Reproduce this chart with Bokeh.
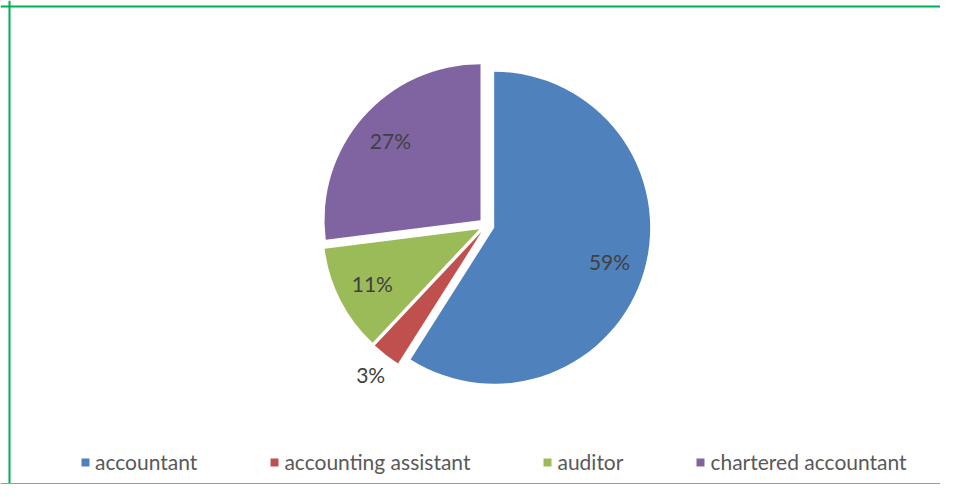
import math
from bokeh.plotting import figure
from bokeh.models import ColumnDataSource, Range1d, Span
from bokeh.core.properties import value
from bokeh.embed import file_html
from bokeh.resources import INLINE

categories = ["accountant", "accounting assistant", "auditor", "chartered accountant"]
shares = [59, 3, 11, 27]
label_texts = ["59%", "3%", "11%", "27%"]
colors = ["#4F81BD", "#C0504D", "#9BBB59", "#8064A2"]

W, H = 940, 484
CX, CY = 486, 259      # pie centre in pixel-like data units
R = 156
EXPLODE = 8

total = float(sum(shares))
xs, ys, starts, ends, lx, ly = [], [], [], [], [], []
cum = 0.0
for s in shares:
    f0 = cum / total
    f1 = (cum + s) / total
    cum += s
    a0 = math.pi / 2 - f0 * 2 * math.pi
    a1 = math.pi / 2 - f1 * 2 * math.pi
    mid = (a0 + a1) / 2
    ox = CX + EXPLODE * math.cos(mid)
    oy = CY + EXPLODE * math.sin(mid)
    xs.append(ox)
    ys.append(oy)
    starts.append(a0)
    ends.append(a1)
    d = R * 0.77 if s / total >= 0.05 else R + 25
    lx.append(ox + d * math.cos(mid))
    ly.append(oy + d * math.sin(mid))

src = ColumnDataSource(dict(category=categories, x=xs, y=ys, start=starts, end=ends,
                            color=colors, label=label_texts, lx=lx, ly=ly))

p = figure(width=W, height=H, output_backend="svg", toolbar_location=None,
           x_range=Range1d(0, W), y_range=Range1d(0, H), min_border=0,
           background_fill_color="white", border_fill_color="white")
p.axis.visible = False
p.grid.visible = False
p.outline_line_color = None

p.wedge(x="x", y="y", radius=R, start_angle="start", end_angle="end", direction="clock",
        fill_color="color", line_color=None, legend_field="category", source=src)

p.text(x="lx", y="ly", text="label", source=src, text_font=value("Lato"),
       text_font_size="21px", text_color="#404040", text_align="center",
       text_baseline="middle")

lg = p.legend[0]
lg.orientation = "horizontal"
lg.location = (80, 10)
lg.label_text_font = "Lato"
lg.label_text_font_size = "21px"
lg.label_text_color = "#595959"
lg.glyph_width = 10
lg.glyph_height = 10
lg.label_standoff = 5
lg.spacing = 72
lg.padding = 0
lg.margin = 0
lg.border_line_color = None
lg.background_fill_alpha = 0

p.add_layout(Span(location=9, dimension="height", line_color="#00B050", line_width=2))
p.add_layout(Span(location=H - 6, dimension="width", line_color="#00B050", line_width=2))
p.add_layout(Span(location=1, dimension="width", line_color="#5DBE8A", line_width=1))

open("out.html", "w").write(file_html(p, INLINE))
